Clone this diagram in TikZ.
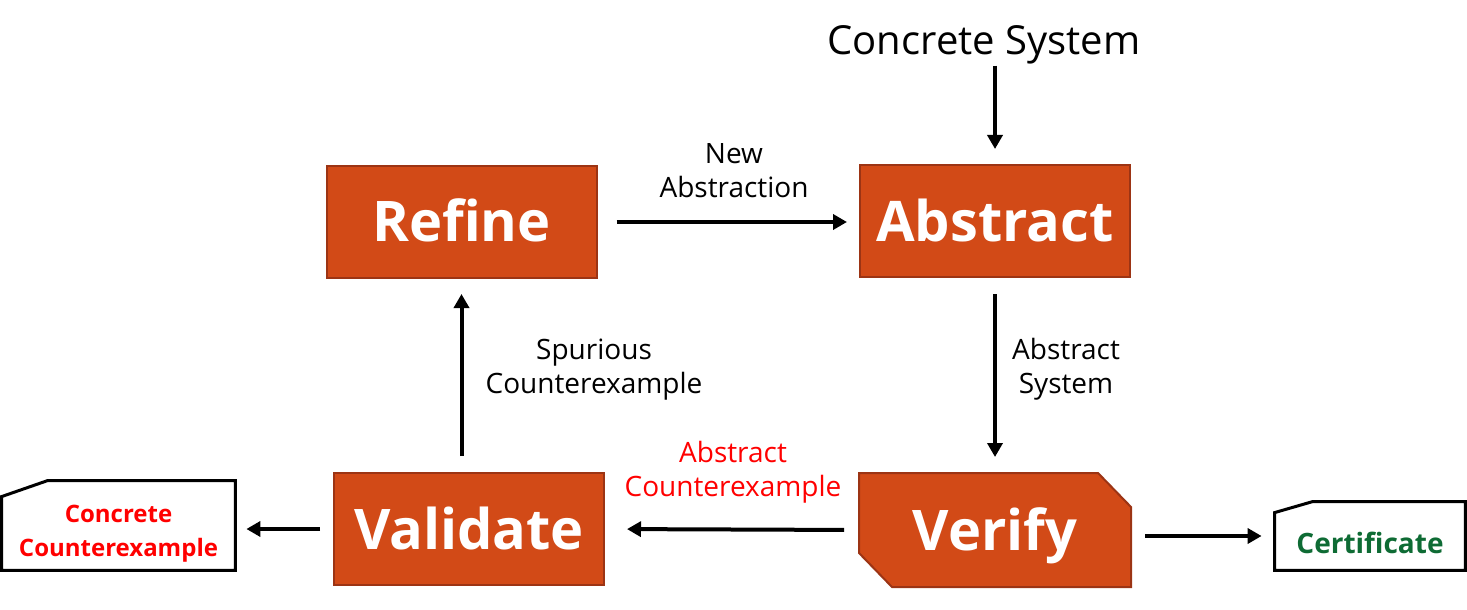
\documentclass[tikz,border=0pt]{standalone}
\usepackage{fontspec}
\setmainfont{Open Sans}
\usetikzlibrary{arrows.meta, backgrounds}
\definecolor{boxfill}{HTML}{D24A17}
\definecolor{boxline}{HTML}{9C3414}
\definecolor{certgreen}{HTML}{0E6B34}
\definecolor{cexred}{HTML}{FF0000}
\begin{document}
\begin{tikzpicture}[x = 0.5pt, y = -0.5pt,
  stage/.style = {fill = boxfill, draw = boxline, line width = 1pt, text = white, font = \fontsize{28}{32}\selectfont\bfseries, minimum width = 135pt, minimum height = 56pt, inner sep = 0pt, text height = 20pt, text depth = 0pt},
  flow/.style = {line width = 2pt, -{Triangle[length = 7pt, width = 7.5pt]}},
  lbl/.style = {align = center, font = \fontsize{14}{17}\selectfont, inner sep = 0pt},
  docbox/.style = {inner sep = 0pt, font = \bfseries},
  docline/.style = {draw, line width = 1.5pt, line join = miter}]
\useasboundingbox (0, 0) rectangle (1467, 610);
\node [stage] (refine) at (461.5, 222) {Refine};
\node [stage] (abstract) at (995, 221) {Abstract};
\node [stage] (validate) at (469, 529) {Validate};
\node [stage, fill = none, draw = none] (verify) at (995, 530) {Verify};
\begin{pgfonlayer}{background}
\filldraw [fill = boxfill, draw = boxline, line width = 1pt] (verify.north west) -- ([xshift = -16.5pt]verify.north east) -- ([yshift = -17pt]verify.north east) -- (verify.south east) -- ([xshift = 16.5pt]verify.south west) -- ([yshift = 17pt]verify.south west) -- cycle;
\end{pgfonlayer}
\node [docbox, minimum width = 116.5pt, minimum height = 44.5pt, label = {[yshift = -4pt, align = center, text = cexred, font = \fontsize{12}{17}\selectfont\bfseries]center:Concrete\\Counterexample}] (cex) at (118.5, 525.5) {};
\draw [docline] ([yshift = -8pt]cex.north west) -- ([xshift = 23pt]cex.north west) -- (cex.north east) -- (cex.south east) -- (cex.south west) -- cycle;
\node [docbox, minimum width = 95pt, minimum height = 34pt, label = {[yshift = -3.5pt, text = certgreen, font = \fontsize{14}{17}\selectfont\bfseries]center:Certificate}] (cert) at (1370, 536) {};
\draw [docline] ([yshift = -5.5pt]cert.north west) -- ([xshift = 19pt]cert.north west) -- (cert.north east) -- (cert.south east) -- (cert.south west) -- cycle;
\node [lbl, font = \fontsize{20}{24}\selectfont] (system) at (984, 45) {Concrete System};
\node [lbl] (newabs) at (734, 171) {New\\Abstraction};
\node [lbl] (abssys) at (1066, 369) {Abstract\\System};
\node [lbl] (spur) at (594, 370) {Spurious\\Counterexample};
\node [lbl, text = cexred] (abscex) at (733, 472) {Abstract\\Counterexample};
\draw [flow, shorten < = 0.5pt, shorten > = 7.5pt] (abstract |- system.south) -- (abstract.north);
\draw [flow, shorten < = 9.5pt, shorten > = 6pt] (refine.east) -- (refine.east -| abstract.west);
\draw [flow, shorten < = 8pt, shorten > = 8pt] (abstract.south) -- (verify.north -| abstract);
\draw [flow, shorten < = 7.5pt, shorten > = 11pt] (verify.west) -- (validate.east);
\draw [flow, shorten < = 8pt, shorten > = 7.5pt] (refine |- validate.north) -- (refine.south);
\draw [flow, shorten < = 6.5pt, shorten > = 5.5pt] (validate.west) -- (validate.west -| cex.east);
\draw [flow, shorten < = 7pt, shorten > = 6.5pt] (verify.east |- cert) -- (cert.west);
\end{tikzpicture}
\end{document}
